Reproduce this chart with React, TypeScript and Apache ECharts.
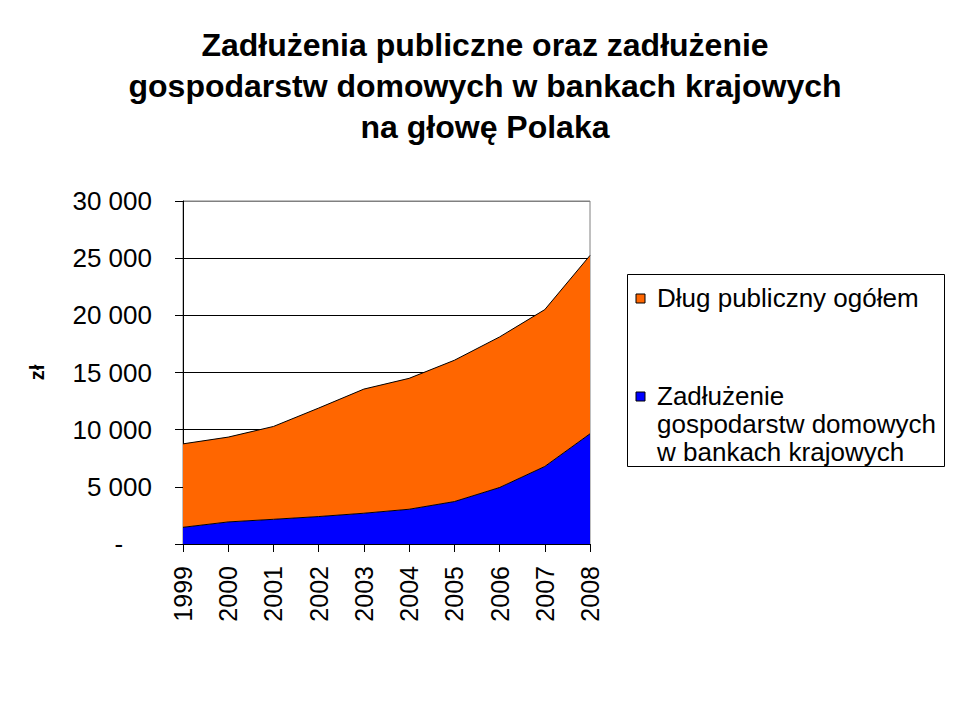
import React, { useEffect, useRef } from "react";
import * as echarts from "echarts";

// lata na osi X
const years = ["1999", "2000", "2001", "2002", "2003", "2004", "2005", "2006", "2007", "2008"];
// zadłużenie gospodarstw domowych w bankach krajowych (zł na osobę)
const householdDebt = [1460, 1930, 2160, 2400, 2690, 3040, 3710, 4940, 6780, 9640];
// dług publiczny ogółem (zł na osobę), nakładany na powyższe
const publicDebt = [7300, 7420, 8120, 9490, 10860, 11450, 12360, 13170, 13720, 15600];
// nazwy serii w kolejności legendy
const seriesNames = ["Dług publiczny ogółem", "Zadłużenie\ngospodarstw domowych\nw bankach krajowych"];
const seriesColors = ["#ff6600", "#0000ff"];

const FONT = "'Liberation Sans', Arial, sans-serif";

const fmt = (v: number) => {
    if (v === 0) return "-\u00a0\u00a0\u00a0\u00a0";
    return String(v).replace(/\B(?=(\d{3})+(?!\d))/g, " ");
};

const App: React.FC = () => {
    const ref = useRef<HTMLDivElement>(null);

    useEffect(() => {
        if (!ref.current) return;
        const chart = echarts.init(ref.current, null, { renderer: "svg" });

        // legenda rysowana ręcznie (ikona przy pierwszej linii tekstu)
        const legendRows = [298, 396];
        const legendItems: any[] = [];
        seriesNames.forEach((name, i) => {
            legendItems.push({
                type: "rect",
                shape: { x: 636, y: legendRows[i] - 4, width: 9, height: 9 },
                style: { fill: seriesColors[i], stroke: "#000", lineWidth: 1 },
            });
            legendItems.push({
                type: "text",
                x: 657,
                y: legendRows[i] - 14,
                style: {
                    text: name,
                    fontFamily: FONT,
                    fontSize: 26,
                    lineHeight: 28,
                    fill: "#000",
                    verticalAlign: "top",
                },
            });
        });

        chart.setOption({
            animation: false,
            backgroundColor: "#fff",
            title: {
                text: "Zadłużenia publiczne oraz zadłużenie\ngospodarstw domowych w bankach krajowych\nna głowę Polaka",
                left: 480,
                top: 19,
                textAlign: "center",
                textStyle: {
                    fontFamily: FONT,
                    fontSize: 32,
                    fontWeight: "bold",
                    lineHeight: 41,
                    color: "#000",
                },
            },
            grid: {
                left: 183,
                right: 370,
                top: 201,
                bottom: 176,
                show: true,
                borderColor: "#808080",
                borderWidth: 1,
                backgroundColor: "transparent",
            },
            xAxis: {
                type: "category",
                data: years,
                boundaryGap: false,
                axisLine: { lineStyle: { color: "#000", width: 1 } },
                axisTick: { show: true, length: 8, lineStyle: { color: "#000" } },
                axisLabel: {
                    rotate: 90,
                    margin: 22,
                    fontFamily: FONT,
                    fontSize: 25,
                    color: "#000",
                },
            },
            yAxis: {
                type: "value",
                min: 0,
                max: 30000,
                interval: 5000,
                name: "zł",
                nameLocation: "middle",
                nameRotate: 90,
                nameGap: 136,
                nameTextStyle: { fontFamily: FONT, fontSize: 20, fontWeight: "bold", color: "#000" },
                axisLine: { show: true, lineStyle: { color: "#000", width: 1 } },
                axisTick: { show: true, length: 8, lineStyle: { color: "#000" } },
                axisLabel: {
                    margin: 31,
                    formatter: fmt,
                    fontFamily: FONT,
                    fontSize: 26,
                    color: "#000",
                },
                splitLine: {
                    lineStyle: {
                        color: ["#000", "#000", "#000", "#000", "#000", "#000", "#808080"],
                        width: 1,
                    },
                },
            },
            series: [
                {
                    name: seriesNames[1],
                    type: "line",
                    stack: "total",
                    data: householdDebt,
                    showSymbol: false,
                    lineStyle: { color: "#000", width: 1 },
                    areaStyle: { color: seriesColors[1], opacity: 1 },
                    itemStyle: { color: seriesColors[1] },
                },
                {
                    name: seriesNames[0],
                    type: "line",
                    stack: "total",
                    data: publicDebt,
                    showSymbol: false,
                    lineStyle: { color: "#000", width: 1 },
                    areaStyle: { color: seriesColors[0], opacity: 1 },
                    itemStyle: { color: seriesColors[0] },
                },
            ],
            graphic: [
                {
                    type: "rect",
                    shape: { x: 627.5, y: 274.5, width: 317, height: 192 },
                    style: { fill: "#fff", stroke: "#000", lineWidth: 1 },
                },
                ...legendItems,
            ],
        });

        return () => {
            chart.dispose();
        };
    }, []);

    return <div ref={ref} style={{ position: "fixed", left: 0, top: 0, width: 960, height: 720 }} />;
};

export default App;
